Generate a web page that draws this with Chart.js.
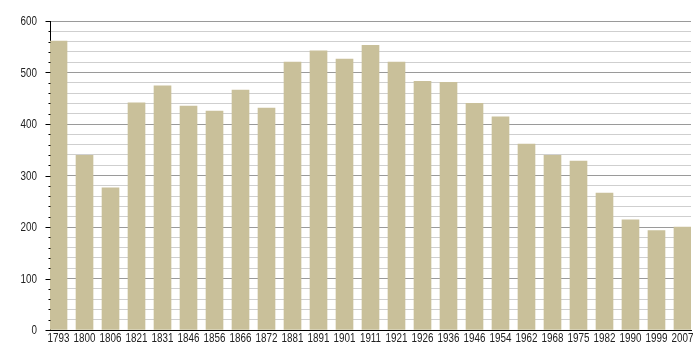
<!DOCTYPE html>
<html>
<head>
<meta charset="utf-8">
<script src="https://cdn.jsdelivr.net/npm/chart.js@4/dist/chart.umd.min.js"></script>
<style>
  html, body { margin: 0; padding: 0; background: #fff; }
  #wrap { width: 700px; height: 360px; }
</style>
</head>
<body>
<div id="wrap"><canvas id="myChart"></canvas></div>
<script>
// census years and population counts
var years = ['1793', '1800', '1806', '1821', '1831', '1846', '1856', '1866', '1872', '1881',
             '1891', '1901', '1911', '1921', '1926', '1936', '1946', '1954', '1962', '1968',
             '1975', '1982', '1990', '1999', '2007'];
var population = [561, 339, 276, 441, 474, 435, 425, 466, 431, 520,
                  542, 526, 553, 520, 483, 481, 440, 414, 361, 339,
                  328, 266, 214, 193, 200];
var yTicks = [0, 100, 200, 300, 400, 500, 600];

var labelFont = '12px "Liberation Sans", Arial, sans-serif';
var squeeze = 0.82; // the original labels use a narrow face

// short minor / longer major ticks on the y axis, plus narrow tick labels
var axisDecor = {
  id: 'axisDecor',
  afterDraw: function(chart) {
    var x = chart.scales.x;
    var y = chart.scales.y;
    var ctx = chart.ctx;
    var x0 = Math.round(chart.chartArea.left) + 0.5;
    ctx.save();
    ctx.strokeStyle = '#000';
    ctx.lineWidth = 1;
    y.ticks.forEach(function(t) {
      var py = Math.round(y.getPixelForValue(t.value)) + 0.5;
      var len = yTicks.indexOf(t.value) >= 0 ? 5 : 2;
      ctx.beginPath();
      ctx.moveTo(x0 - len, py);
      ctx.lineTo(x0, py);
      ctx.stroke();
    });

    ctx.fillStyle = '#222';
    ctx.font = labelFont;
    ctx.textBaseline = 'middle';
    // y labels, right aligned
    ctx.textAlign = 'right';
    y.ticks.forEach(function(t) {
      if (yTicks.indexOf(t.value) < 0) return;
      var py = y.getPixelForValue(t.value);
      ctx.save();
      ctx.translate(37, py + 1);
      ctx.scale(squeeze, 1);
      ctx.fillText(String(t.value), 0, 0);
      ctx.restore();
    });
    // x labels, centred under bars
    ctx.textAlign = 'center';
    x.ticks.forEach(function(t) {
      var lab = years[t.value];
      if (lab === undefined) return;
      var px = x.getPixelForValue(t.value);
      ctx.save();
      ctx.translate(px, 339);
      ctx.scale(squeeze, 1);
      ctx.fillText(lab, 0, 0);
      ctx.restore();
    });
    ctx.restore();
  }
};

var chartData = {
  datasets: [{
    label: 'Population',
    data: population.map(function(v, i) { return { x: i, y: v }; }),
    backgroundColor: '#c9c09a',
    borderWidth: 0,
    barThickness: 17
  }]
};

var halfGap = 8.5 / 25.96; // first/last bar flush with plot edges

var chartOptions = {
  responsive: false,
  animation: false,
  layout: { padding: { left: 0, right: 9, top: 21, bottom: 0 } },
  plugins: { legend: { display: false }, tooltip: { enabled: false } },
  scales: {
    x: {
      type: 'linear',
      offset: false,
      min: -halfGap,
      max: years.length - 1 + halfGap,
      grid: { display: false, drawTicks: false },
      border: { display: true, color: '#000', width: 1 },
      ticks: {
        stepSize: 1,
        autoSkip: false,
        maxRotation: 0,
        includeBounds: false,
        color: 'rgba(0,0,0,0)'
      },
      afterFit: function(scale) { scale.height = 30; }
    },
    y: {
      min: 0,
      max: 600,
      grid: {
        drawTicks: false,
        color: function(c) { return c.tick && c.tick.value % 100 === 0 ? '#9a9a9a' : '#cfcfcf'; }
      },
      border: { display: true, color: '#000', width: 1 },
      ticks: {
        stepSize: 20,
        autoSkip: false,
        color: 'rgba(0,0,0,0)',
        callback: function(v) { return yTicks.indexOf(v) >= 0 ? String(v) : ''; }
      },
      afterFit: function(scale) { scale.width = 50; }
    }
  }
};

var canvas = document.getElementById('myChart');
canvas.width = 700;
canvas.height = 360;
var chart = new Chart(canvas.getContext('2d'), {
  type: 'bar',
  data: chartData,
  options: chartOptions,
  plugins: [axisDecor]
});
</script>
</body>
</html>
